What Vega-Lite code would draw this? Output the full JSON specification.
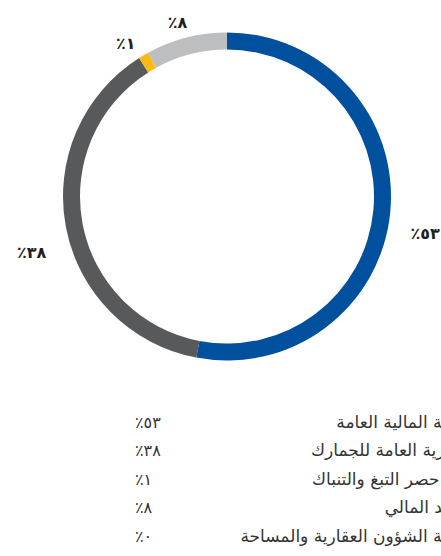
{
  "$schema": "https://vega.github.io/schema/vega-lite/v6.json",
  "padding": {"left": 13, "top": 0, "right": 0, "bottom": 0},
  "spacing": 0,
  "config": {"view": {"stroke": null}, "concat": {"spacing": 0}},
  "datasets": {
    "shares": [
      {"rank": 1, "name": "مديرية المالية العامة", "value": 53, "label": "٪٥٣"},
      {"rank": 2, "name": "المديرية العامة للجمارك", "value": 38, "label": "٪٣٨"},
      {"rank": 3, "name": "إدارة حصر التبغ والتنباك", "value": 1, "label": "٪١"},
      {"rank": 4, "name": "المعهد المالي", "value": 8, "label": "٪٨"},
      {"rank": 5, "name": "مديرية الشؤون العقارية والمساحة", "value": 0, "label": "٪٠"}
    ]
  },
  "vconcat": [
    {
      "width": 428,
      "height": 393,
      "data": {"name": "shares"},
      "transform": [{"filter": "datum.value > 0"}],
      "encoding": {
        "theta": {"field": "value", "type": "quantitative", "stack": true},
        "order": {"field": "rank", "type": "quantitative"}
      },
      "layer": [
        {
          "mark": {"type": "arc", "outerRadius": 164, "innerRadius": 147},
          "encoding": {
            "color": {
              "field": "name",
              "type": "nominal",
              "legend": null,
              "scale": {
                "domain": ["مديرية المالية العامة", "المديرية العامة للجمارك", "إدارة حصر التبغ والتنباك", "المعهد المالي", "مديرية الشؤون العقارية والمساحة"],
                "range": ["#00509E", "#58595B", "#FDB913", "#BCBEC0", "#999999"]
              }
            }
          }
        },
        {
          "mark": {"type": "text", "radius": 199, "dy": 19, "font": "DejaVu Sans", "fontSize": 16, "fontWeight": "bold", "fill": "#231F20", "align": "center", "baseline": "middle"},
          "encoding": {"text": {"field": "label"}}
        }
      ]
    },
    {
      "width": 428,
      "height": 163,
      "data": {"name": "shares"},
      "encoding": {
        "y": {
          "field": "name",
          "type": "nominal",
          "sort": {"field": "rank"},
          "axis": null,
          "scale": {"type": "point", "padding": 0.86, "align": 0.612}
        }
      },
      "layer": [
        {
          "mark": {"type": "text", "align": "left", "baseline": "middle", "font": "DejaVu Sans", "fontSize": 16, "fill": "#333333"},
          "encoding": {
            "x": {"datum": "pct", "type": "nominal", "axis": null, "scale": {"type": "point", "padding": 0, "domain": ["pct", "name"], "range": [122, 466]}},
            "text": {"field": "label"}
          }
        },
        {
          "mark": {"type": "text", "align": "right", "baseline": "middle", "font": "DejaVu Sans", "fontSize": 17, "fill": "#333333", "clip": true},
          "encoding": {
            "x": {"datum": "name", "type": "nominal"},
            "text": {"field": "name"}
          }
        }
      ]
    }
  ]
}
